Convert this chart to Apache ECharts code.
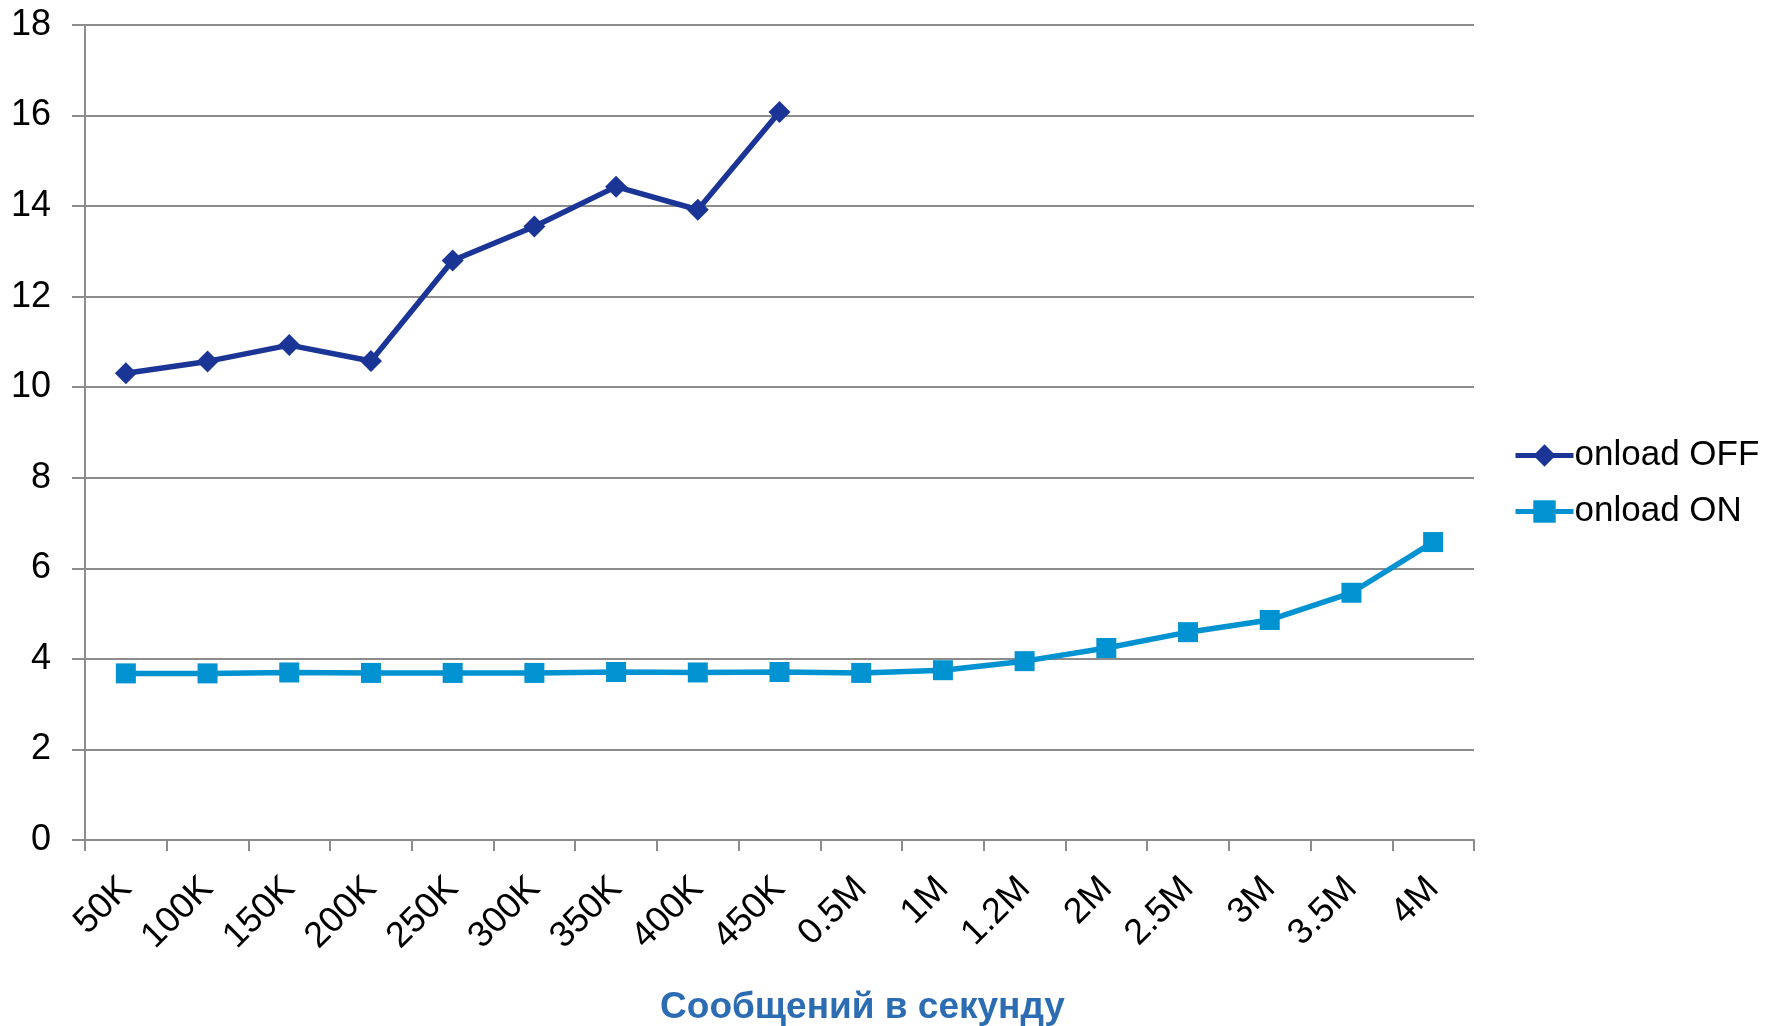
<!DOCTYPE html>
<html><head><meta charset="utf-8">
<script src="https://cdn.jsdelivr.net/npm/echarts@6/dist/echarts.min.js"></script>
<style>html,body{margin:0;padding:0;background:#fff}#c{width:1773px;height:1026px}</style>
</head><body><div id="c"></div>
<script>
const categories = ['50K','100K','150K','200K','250K','300K','350K','400K','450K','0.5M','1M','1.2M','2M','2.5M','3M','3.5M','4M'];
const onloadOff = [10.31,10.57,10.93,10.58,12.8,13.55,14.43,13.92,16.08];
const onloadOn = [3.68,3.68,3.70,3.69,3.69,3.69,3.71,3.70,3.71,3.69,3.75,3.95,4.24,4.59,4.86,5.46,6.58];
const yTicks = {min:0, max:18, interval:2};
const xName = 'Сообщений в секунду';
const seriesNames = ['onload OFF','onload ON'];

const font = 'Arial, "Liberation Sans", sans-serif';
const chart = echarts.init(document.getElementById('c'));
chart.setOption({
  animation:false,
  backgroundColor:'#fff',
  grid:{left:85,right:299,top:25,bottom:186,containLabel:false,outerBoundsMode:'none'},
  legend:{
    orient:'vertical', left:1508, top:433, itemWidth:58, itemHeight:28, itemGap:21,
    lineStyle:{width:5},
    textStyle:{fontFamily:font,fontSize:35,color:'#000',padding:[0,0,0,-4]},
    data:seriesNames
  },
  xAxis:{
    type:'category', data:categories, boundaryGap:true,
    axisLine:{lineStyle:{color:'#8c8c8c',width:2}},
    axisTick:{show:true,length:11,lineStyle:{color:'#8c8c8c',width:2}},
    axisLabel:{rotate:45,margin:43,fontFamily:font,fontSize:36,color:'#000',interval:0},
    name:xName, nameLocation:'middle', nameGap:149, nameMoveOverlap:false,
    nameTextStyle:{fontFamily:font,fontSize:37,fontWeight:'bold',color:'#2b6cb3',padding:[0,0,0,166]}
  },
  yAxis:{
    type:'value', min:yTicks.min, max:yTicks.max, interval:yTicks.interval,
    axisLine:{show:true,lineStyle:{color:'#8c8c8c',width:2}},
    axisTick:{show:true,length:13,lineStyle:{color:'#8c8c8c',width:2}},
    axisLabel:{margin:34,fontFamily:font,fontSize:36,color:'#000'},
    splitLine:{show:true,lineStyle:{color:'#8c8c8c',width:2}}
  },
  series:[
    {name:seriesNames[0], type:'line', data:onloadOff, symbol:'diamond', symbolSize:22,
     lineStyle:{color:'#1b3597',width:5.5}, itemStyle:{color:'#1b3597'}},
    {name:seriesNames[1], type:'line', data:onloadOn, symbol:'rect', symbolSize:20,
     lineStyle:{color:'#0092d1',width:5.5}, itemStyle:{color:'#0092d1'}}
  ]
});
</script></body></html>
